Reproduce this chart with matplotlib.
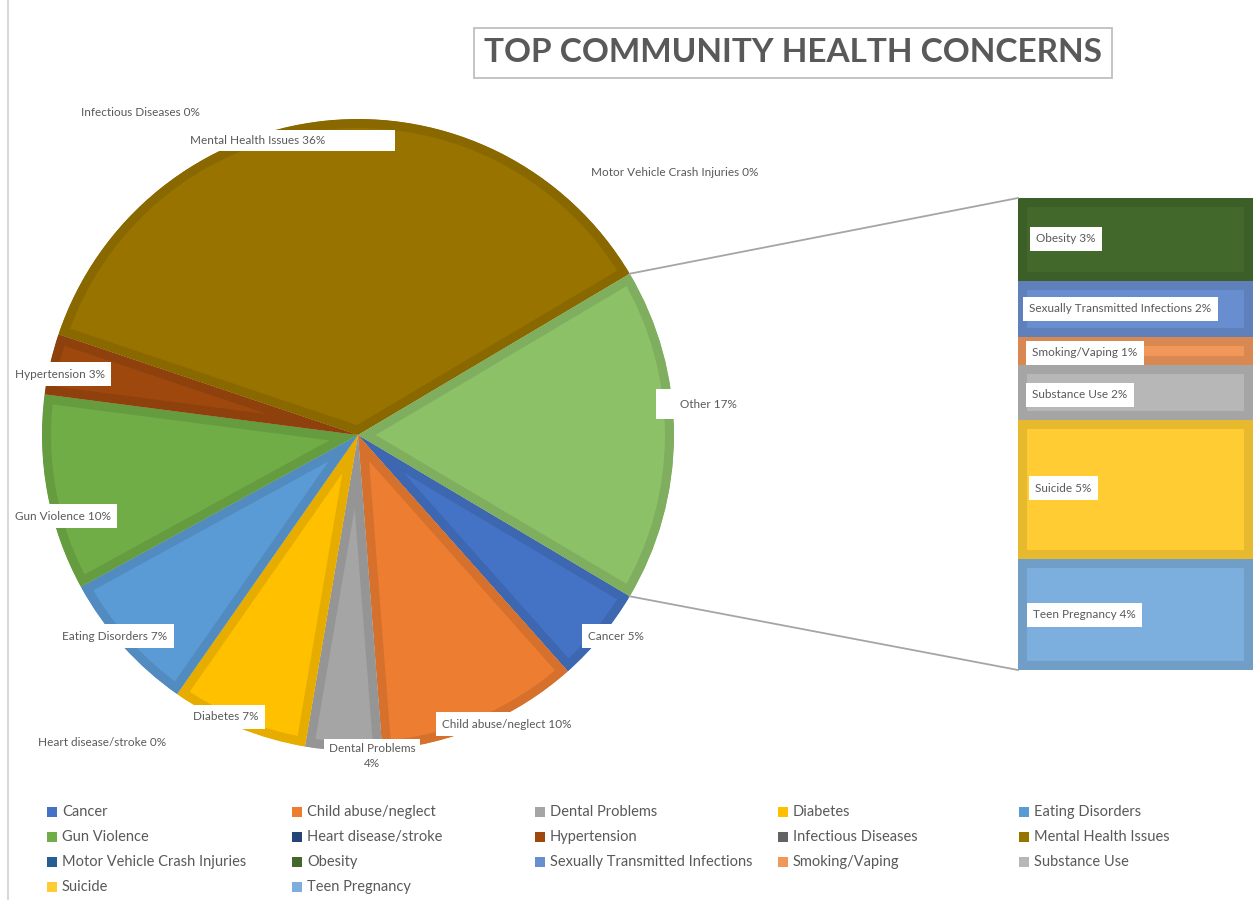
import numpy as np
import matplotlib
matplotlib.use("Agg")
import matplotlib.pyplot as plt
from matplotlib.patches import Rectangle
import matplotlib.colors as mcolors

plt.rcParams['font.family'] = ['Lato', 'DejaVu Sans']

# ---------------- data ----------------
primary_labels = ["Cancer", "Child abuse/neglect", "Dental Problems", "Diabetes",
                  "Eating Disorders", "Gun Violence", "Heart disease/stroke",
                  "Hypertension", "Infectious Diseases", "Mental Health Issues",
                  "Motor Vehicle Crash Injuries"]
primary_values = [4.9, 10.3, 3.9, 7.0, 7.3, 10.0, 0.0, 3.1, 0.0, 36.2, 0.0]
primary_colors = ["#4472C4", "#ED7D31", "#A5A5A5", "#FFC000", "#5B9BD5", "#70AD47",
                  "#264478", "#9E480E", "#636363", "#997300", "#255E91"]

secondary_labels = ["Obesity", "Sexually Transmitted Infections", "Smoking/Vaping",
                    "Substance Use", "Suicide", "Teen Pregnancy"]
secondary_values = [3.0, 2.0, 1.0, 2.0, 5.0, 4.0]
secondary_colors = ["#43682B", "#698ED0", "#F1975A", "#B7B7B7", "#FFCD33", "#7CAFDD"]

other_label = "Other"
other_color = "#8CC168"

title = "TOP COMMUNITY HEALTH CONCERNS"

# ---------------- layout (image pixel coords, y down) ----------------
W, H = 1253, 900
pie_center = (358, 435)
pie_radius = 316
bar_left, bar_right = 1018, 1253
bar_top, bar_bottom = 198, 670

# (text left x, text center y, draw white box)
label_pos = {
    "Infectious Diseases": (81, 112, False),
    "Mental Health Issues": (190, 140, True),
    "Motor Vehicle Crash Injuries": (591, 172, False),
    "Hypertension": (15, 374, True),
    "Other": (680, 404, True),
    "Gun Violence": (15, 516, True),
    "Eating Disorders": (62, 636, True),
    "Cancer": (588, 636, True),
    "Diabetes": (193, 717, True),
    "Heart disease/stroke": (38, 743, False),
    "Child abuse/neglect": (442, 724, True),
    "Obesity": (1036, 239, True),
    "Sexually Transmitted Infections": (1029, 309, True),
    "Smoking/Vaping": (1032, 353, True),
    "Substance Use": (1032, 395, True),
    "Suicide": (1035, 488, True),
    "Teen Pregnancy": (1033, 615, True),
}
# extra white label boxes that are wider than their text (left, top, right, bottom)
wide_boxes = {
    "Mental Health Issues": (185, 130, 395, 151),
    "Other": (656, 389, 760, 419),
}
dental_pos = (372, 756)

legend_cols_x = [47, 292, 535, 778, 1019]
legend_rows_y = [812, 837, 862, 887]

text_color = "#595959"


def Y(y):
    return H - y


def darker(c, f=0.9):
    r, g, b = mcolors.to_rgb(c)
    return (r * f, g * f, b * f)


fig = plt.figure(figsize=(W / 100, H / 100), dpi=100)
ax = fig.add_axes([0, 0, 1, 1])

total = sum(primary_values) + sum(secondary_values)
other_value = sum(secondary_values)

# ---------------- primary pie ----------------
pie_vals = primary_values + [other_value]
pie_cols = primary_colors + [other_color]
half_other = other_value / total * 180.0
wedges, _ = ax.pie(pie_vals, colors=pie_cols, startangle=-half_other,
                   counterclock=False, center=(pie_center[0], Y(pie_center[1])),
                   radius=pie_radius, frame=True)
ax.set_xlim(0, W)
ax.set_ylim(0, H)
ax.set_aspect('equal')
ax.axis('off')
for w, c in zip(wedges, pie_cols):
    w.set_edgecolor(darker(c))
    w.set_linewidth(13)
    w.set_clip_on(True)
    w.set_clip_path(w)

# ---------------- secondary stacked bar ----------------
scale = (bar_bottom - bar_top) / other_value
bottom = Y(bar_top)
for v, c in zip(secondary_values, secondary_colors):
    h = v * scale
    bars = ax.bar(bar_left, -h, width=bar_right - bar_left, bottom=bottom,
                  align='edge', color=c, edgecolor=darker(c), linewidth=13)
    for b in bars:
        b.set_clip_on(True)
        b.set_clip_path(b)
    bottom -= h

# connector lines
a = np.deg2rad(half_other)
cx, cy = pie_center[0], Y(pie_center[1])
ax.plot([cx + pie_radius * np.cos(a), bar_left], [cy + pie_radius * np.sin(a), Y(bar_top)],
        color="#A5A5A5", lw=1.3)
ax.plot([cx + pie_radius * np.cos(-a), bar_left], [cy + pie_radius * np.sin(-a), Y(bar_bottom)],
        color="#A5A5A5", lw=1.3)

# ---------------- labels ----------------
all_vals = dict(zip(primary_labels + secondary_labels, primary_values + secondary_values))
all_vals[other_label] = other_value
for name, (l, t, r, b) in wide_boxes.items():
    ax.add_patch(Rectangle((l, Y(b)), r - l, b - t, fc='white', ec='none', zorder=3))
for name, (x, y, boxed) in label_pos.items():
    pct = round(all_vals[name] / total * 100)
    kw = {}
    if boxed and name not in wide_boxes:
        kw['bbox'] = dict(boxstyle='square,pad=0.55', fc='white', ec='none')
    ax.text(x, Y(y), f"{name} {pct}%", ha='left', va='center', fontsize=8.5,
            color=text_color, zorder=4, **kw)
dpct = round(all_vals["Dental Problems"] / total * 100)
ax.text(dental_pos[0], Y(dental_pos[1]), f"Dental Problems\n{dpct}%", ha='center',
        va='center', fontsize=8.5, color=text_color, linespacing=1.35, zorder=4,
        bbox=dict(boxstyle='square,pad=0.4', fc='white', ec='none'))

# ---------------- title ----------------
ax.add_patch(Rectangle((474, Y(78)), 638, 50, fc='white', ec='#BFBFBF', lw=1.3))
ax.text(793, Y(53), title, ha='center', va='center', fontsize=24, fontweight='bold',
        color=text_color)

# ---------------- legend ----------------
leg_labels = primary_labels + secondary_labels
leg_colors = primary_colors + secondary_colors
for i, (lab, col) in enumerate(zip(leg_labels, leg_colors)):
    r, c = divmod(i, 5)
    x, y = legend_cols_x[c], legend_rows_y[r]
    ax.add_patch(Rectangle((x, Y(y) - 5), 10, 10, fc=col, ec='none'))
    ax.text(x + 15, Y(y), lab, ha='left', va='center', fontsize=10.5, color=text_color)

# chart border on left
ax.plot([8, 8], [0, H], color="#D9D9D9", lw=1.5)

fig.savefig("out.png", dpi=100)
